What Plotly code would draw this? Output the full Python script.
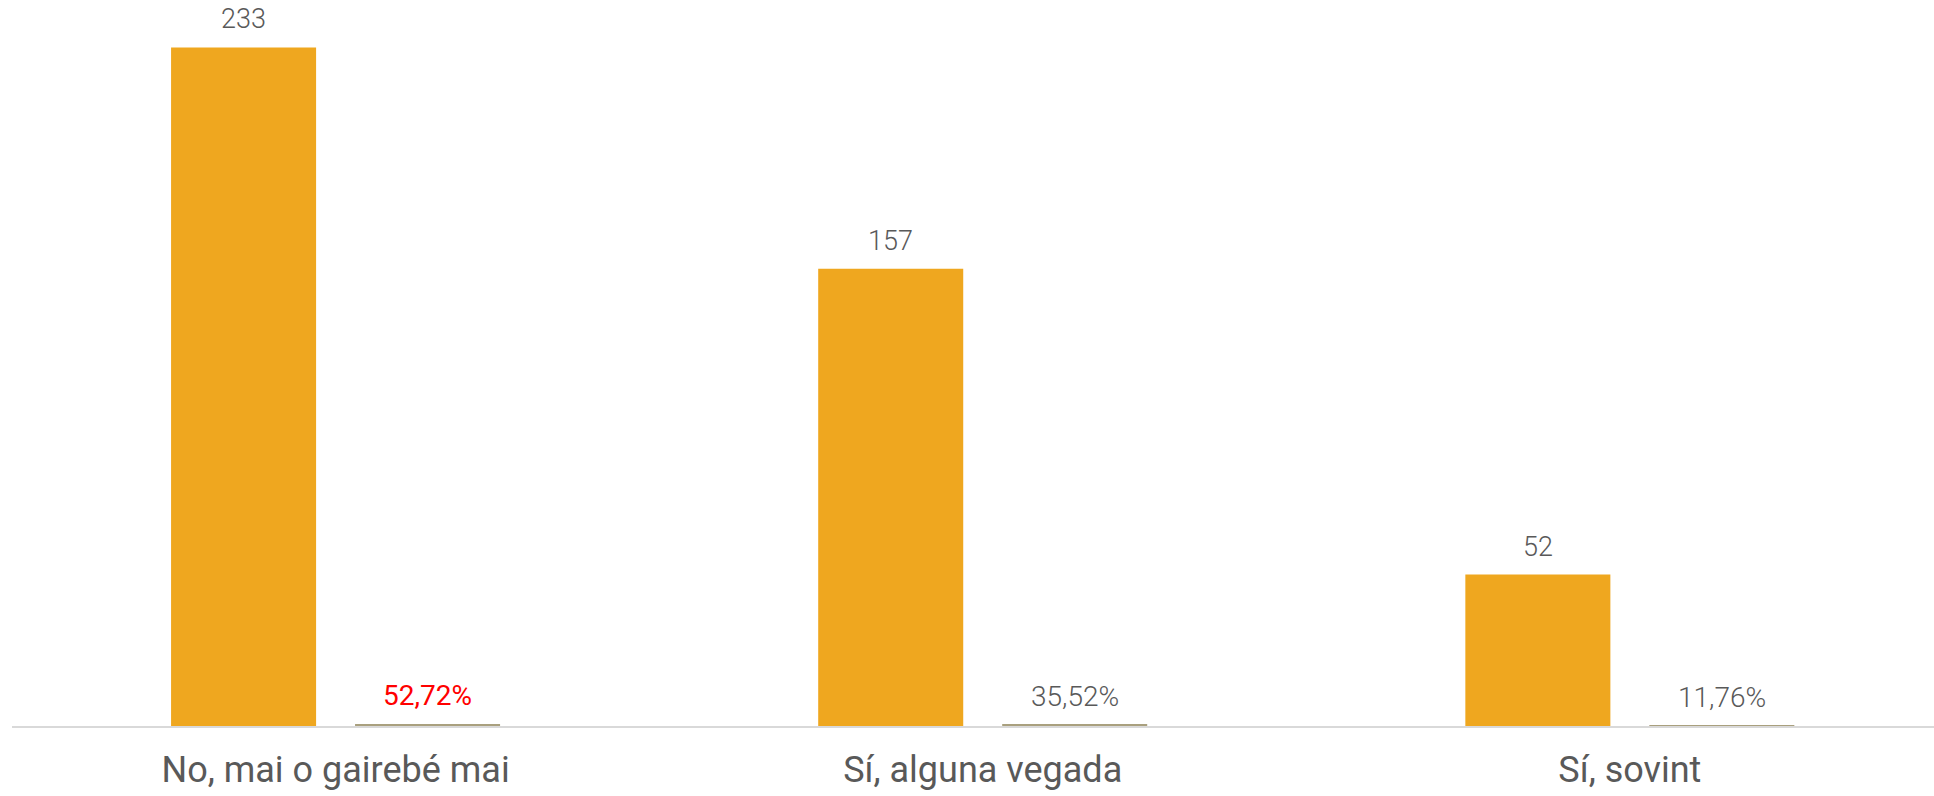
import plotly.graph_objects as go

categories = ["No, mai o gairebé mai", "Sí, alguna vegada", "Sí, sovint"]
counts = [233, 157, 52]
shares = [0.5272, 0.3552, 0.1176]
share_labels = ["52,72%", "35,52%", "11,76%"]
share_label_colors = ["#ff0000", "#595959", "#595959"]

BAR_W = 0.2241
GAP = 0.0301
ORANGE = "#EFA71F"
BEIGE = "#A9A07E"

fig = go.Figure()
fig.add_trace(go.Bar(
    x=categories, y=counts, width=BAR_W, offset=-(BAR_W + GAP),
    marker=dict(color=ORANGE, line=dict(width=0)), hoverinfo="skip",
))
fig.add_trace(go.Bar(
    x=categories, y=shares, width=BAR_W, offset=GAP,
    marker=dict(color=BEIGE, line=dict(width=0)), hoverinfo="skip",
))

shift_px = 92
for c, v in zip(categories, counts):
    fig.add_annotation(x=c, y=v, xref="x", yref="y", text=str(v), showarrow=False,
                       xshift=-shift_px, yanchor="bottom", yshift=10,
                       font=dict(family="Roboto", size=27, color="#595959", weight=300))
for c, v, t, col in zip(categories, shares, share_labels, share_label_colors):
    fig.add_annotation(x=c, y=v, xref="x", yref="y", text=t, showarrow=False,
                       xshift=shift_px, yanchor="bottom", yshift=10,
                       font=dict(family="Roboto", size=28, color=col,
                                 weight=400 if col == "#ff0000" else 300))

fig.update_layout(
    width=1934, height=796,
    margin=dict(l=12, r=0, t=0, b=70),
    paper_bgcolor="white", plot_bgcolor="white",
    barmode="overlay", showlegend=False,
    xaxis=dict(type="category", range=[-0.5, 2.47], showgrid=False, zeroline=False,
               showline=True, linecolor="#d9d9d9", linewidth=2, ticks="",
               ticklabelstandoff=11,
               tickfont=dict(family="Roboto", size=36, color="#595959"),
               fixedrange=True),
    yaxis=dict(range=[0, 249.3], visible=False, showgrid=False, zeroline=False,
               fixedrange=True),
)

fig.write_html("out.html", config={"displayModeBar": False},
               post_script="document.body.style.margin='0';document.body.style.overflow='hidden';")
